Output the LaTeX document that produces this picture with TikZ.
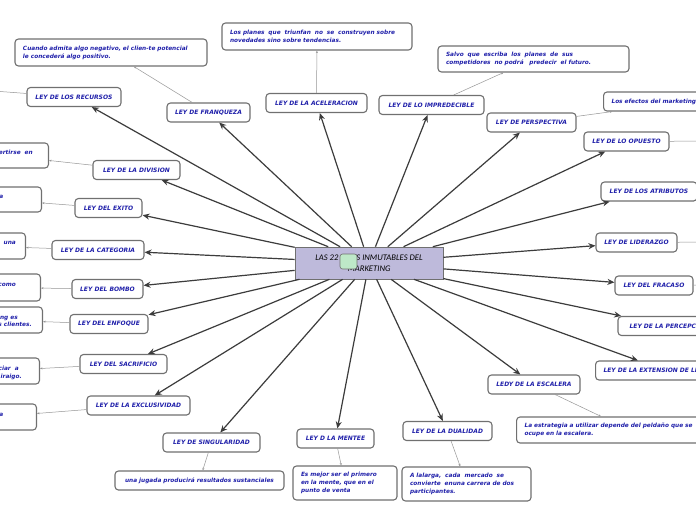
\documentclass[tikz,border=0pt]{standalone}
\usepackage{fontspec}
\setmainfont{DejaVu Sans}
\newfontfamily\cfont{Carlito}
\usetikzlibrary{arrows.meta}
\definecolor{txtblue}{RGB}{32,32,170}
\definecolor{boxline}{RGB}{112,112,112}
\definecolor{cfill}{RGB}{190,186,219}
\definecolor{arrcol}{RGB}{60,60,60}
\definecolor{thincol}{RGB}{150,150,150}
\definecolor{icongreen}{RGB}{190,232,200}
\tikzset{
  law/.style={draw=boxline, line width=1.1pt, rounded corners=3.5pt, fill=white,
    minimum height=19pt, inner sep=1pt,
    font=\fontsize{6}{7.2}\selectfont\bfseries\itshape, text=txtblue},
  det/.style={draw=boxline, line width=1.1pt, rounded corners=3.5pt, fill=white,
    inner xsep=8pt, inner ysep=2pt, align=left,
    font=\fontsize{5.8}{8}\selectfont\bfseries\itshape, text=txtblue},
  dtxt/.style={font=\fontsize{5.8}{8}\selectfont\bfseries\itshape, text=txtblue, inner sep=0pt},
  arr/.style={draw=arrcol, line width=1.2pt, -{Stealth[length=7pt,width=6pt]}},
  con/.style={draw=thincol, line width=0.5pt, -{Stealth[length=2.5pt,width=2pt]}},
}
\begin{document}
\begin{tikzpicture}[x=1pt,y=-1pt]
\useasboundingbox (0,0) rectangle (696,520);
\fill[white] (0,0) rectangle (696,520);
\clip (0,0) rectangle (696,520);

% central node
\node[draw=boxline, line width=0.6pt, fill=cfill, minimum width=148pt, minimum height=32pt,
  align=center, inner sep=1pt, font=\cfont\itshape\fontsize{8.6}{11}\selectfont] (c) at (369,263)
  {LAS 22 LEYES INMUTABLES DEL\\MARKETING};
\node[draw=boxline, line width=0.6pt, fill=icongreen, rounded corners=2.5pt,
  minimum width=17pt, minimum height=15pt, inner sep=0pt] (icon) at (348.5,261.5) {};

% law nodes
\node[law, minimum width=94pt] (recursos) at (74,97) {LEY DE LOS RECURSOS};
\node[law, minimum width=83pt] (franqueza) at (208.5,112.5) {LEY DE FRANQUEZA};
\node[law, minimum width=101pt] (aceleracion) at (316.5,103) {LEY DE LA ACELERACION};
\node[law, minimum width=105pt] (impredecible) at (431.5,105) {LEY DE LO IMPREDECIBLE};
\node[law, minimum width=89pt] (perspectiva) at (531.5,122.5) {LEY DE PERSPECTIVA};
\node[law, minimum width=85pt] (opuesto) at (626.5,141.5) {LEY DE LO OPUESTO};
\node[law, minimum width=96pt] (atributos) at (649,191.5) {LEY DE LOS ATRIBUTOS};
\node[law, minimum width=81pt] (liderazgo) at (636.5,242.5) {LEY DE LIDERAZGO};
\node[law, minimum width=78pt] (fracaso) at (654,285.5) {LEY DEL FRACASO};
\node[law, minimum width=102pt] (percepcion) at (669,326) {LEY DE LA PERCEPCION};
\node[law, minimum width=140pt, anchor=west, align=left, text width=124pt, inner xsep=8pt] (extension) at (595,370.5) {LEY DE LA EXTENSION DE LINEA};
\node[law, minimum width=92pt] (escalera) at (534,384.5) {LEDY DE LA ESCALERA};
\node[law, minimum width=89pt] (dualidad) at (447.5,431) {LEY DE LA DUALIDAD};
\node[law, minimum width=77pt] (mentee) at (335.5,438.5) {LEY D LA MENTEE};
\node[law, minimum width=97pt] (singularidad) at (211.5,442.5) {LEY DE SINGULARIDAD};
\node[law, minimum width=103pt] (exclusividad) at (138.5,405.5) {LEY DE LA EXCLUSIVIDAD};
\node[law, minimum width=87pt] (sacrificio) at (123.5,364) {LEY DEL SACRIFICIO};
\node[law, minimum width=78pt] (enfoque) at (109,324) {LEY DEL ENFOQUE};
\node[law, minimum width=71pt] (bombo) at (107.5,289) {LEY DEL BOMBO};
\node[law, minimum width=92pt] (categoria) at (98,250) {LEY DE LA CATEGORIA};
\node[law, minimum width=67pt] (exito) at (108.5,208) {LEY DEL EXITO};
\node[law, minimum width=87pt] (division) at (136.5,170) {LEY DE LA DIVISION};

% detail boxes
\node[det, text width=176pt, minimum height=27pt] (cuando) at (111,52.5)
  {Cuando admita algo negativo, el clien-te potencial\\le conceder\'a algo positivo.};
\node[det, text width=174pt, minimum height=27pt] (planes) at (317,36.5)
  {Los planes\ \ que\ \ triunfan\ \ no\ \ se\ \ construyen sobre\\novedades sino sobre tendencias.};
\node[det, text width=175pt, minimum height=26pt] (salvo) at (533.5,59)
  {Salvo\ \ que\ \ escriba\ \ los\ \ planes\ \ de\ \ sus\\competidores\ \ no podr\'a\ \ \ predecir\ \ el futuro.};
\node[det, text width=150pt, minimum height=19pt, anchor=west] (efectos) at (603,101.5)
  {Los efectos del marketing};
\node[det, text width=210pt, minimum height=26pt, anchor=west] (estrategia) at (516,430)
  {La estrategia a utilizar depende del pelda\~no que se\\ocupe en la escalera.};
\node[det, text width=113pt, minimum height=34pt] (alalarga) at (466.5,484)
  {A lalarga,\ \ cada\ \ mercado\ \ se\\convierte\ \ enuna carrera de dos\\participantes.};
\node[det, text width=88pt, minimum height=34pt] (esmejor) at (345,483)
  {Es mejor ser el primero\\en la mente, que en el\\punto de venta};
\node[det, text width=153pt, minimum height=19pt, align=center] (jugada) at (199.5,480.5)
  {una jugada producir\'a resultados sustanciales};

% left boxes (cut by the edge)
\node[det, minimum width=90pt, minimum height=25pt, anchor=east] (ldiv) at (49,155.5) {};
\node[det, minimum width=90pt, minimum height=25pt, anchor=east] (lexito) at (42,199.5) {};
\node[det, minimum width=90pt, minimum height=26pt, anchor=east] (lcat) at (26,246) {};
\node[det, minimum width=90pt, minimum height=27pt, anchor=east] (lbombo) at (41,287.5) {};
\node[det, minimum width=90pt, minimum height=26pt, anchor=east] (lenf) at (43,320) {};
\node[det, minimum width=90pt, minimum height=26pt, anchor=east] (lsac) at (40,371) {};
\node[det, minimum width=90pt, minimum height=26pt, anchor=east] (lexcl) at (37,417) {};
\node[dtxt, anchor=base east] (tdiv) at (33,154.5) {ertirse\ \ en};
\node[dtxt, anchor=base east] (texito) at (3.5,198) {a};
\node[dtxt, anchor=base east] (tcat) at (16,244) {una};
\node[dtxt, anchor=base east] (tbombo) at (16,286) {como};
\node[dtxt, anchor=base east] (tenf1) at (18,319) {ing es};
\node[dtxt, anchor=base east] (tenf2) at (32,326.5) {s clientes.};
\node[dtxt, anchor=base east] (tsac1) at (19,370) {ciar\ \ a};
\node[dtxt, anchor=base east] (tsac2) at (22,378) {iraigo.};
\node[dtxt, anchor=base east] (texcl) at (3.5,416) {a};

\coordinate (lrec) at (-20,90);
\coordinate (ropu) at (720,141);
\coordinate (rlid) at (720,242);
\coordinate (rfra) at (720,285);

% arrows from centre
\foreach \n in {recursos,franqueza,aceleracion,impredecible,perspectiva,opuesto,atributos,
  liderazgo,fracaso,percepcion,extension,escalera,dualidad,mentee,singularidad,
  exclusividad,sacrificio,enfoque,bombo,categoria,exito,division}
  \draw[arr] (c) -- (\n);

% thin connectors
\draw[con] (franqueza) -- (cuando);
\draw[con] (aceleracion) -- (planes);
\draw[con] (impredecible) -- (salvo);
\draw[con] (perspectiva) -- (efectos);
\draw[con] (escalera) -- (estrategia);
\draw[con] (dualidad) -- (alalarga);
\draw[con] (mentee) -- (esmejor);
\draw[con] (singularidad) -- (jugada);
\draw[con] (division) -- (ldiv);
\draw[con] (exito) -- (lexito);
\draw[con] (categoria) -- (lcat);
\draw[con] (bombo) -- (lbombo);
\draw[con] (enfoque) -- (lenf);
\draw[con] (sacrificio) -- (lsac);
\draw[con] (exclusividad) -- (lexcl);
\draw[con] (recursos) -- (lrec);
\draw[con] (opuesto) -- (ropu);
\draw[con] (liderazgo) -- (rlid);
\draw[con] (fracaso) -- (rfra);
\end{tikzpicture}
\end{document}
